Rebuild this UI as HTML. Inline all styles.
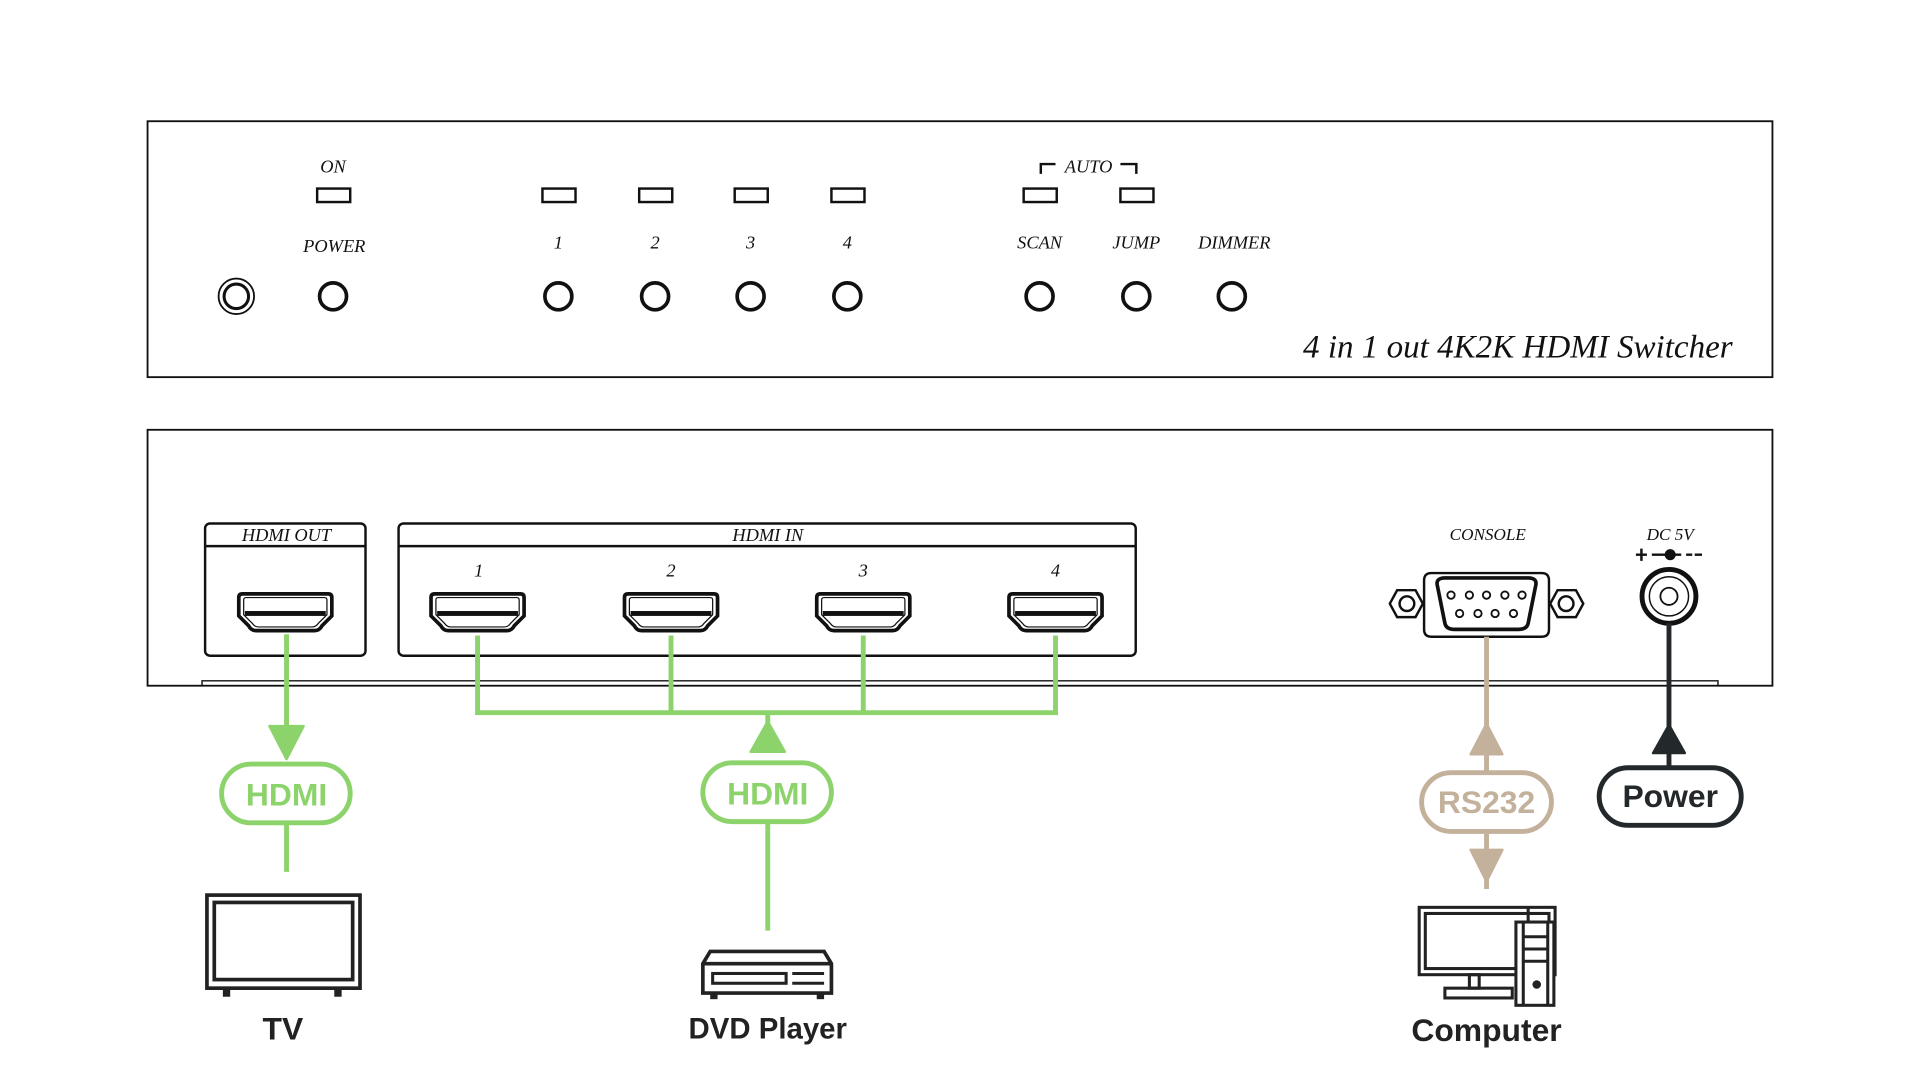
<!DOCTYPE html>
<html><head><meta charset="utf-8"><style>html,body{margin:0;padding:0;background:#fff;width:1920px;height:1080px;overflow:hidden}svg{display:block}</style></head>
<body>
<svg width="1920" height="1080" viewBox="0 0 1568 882" preserveAspectRatio="none" xmlns="http://www.w3.org/2000/svg">
<rect width="1568" height="882" fill="#fff"/>
<g font-family="Liberation Serif, serif" font-style="italic" fill="#111" text-anchor="middle">
<rect x="120.5" y="99" width="1327" height="209" fill="none" stroke="#111" stroke-width="1.5"/>
<text x="272" y="141" font-size="15">ON</text>
<text x="273" y="206" font-size="15">POWER</text>
<text x="456" y="203" font-size="15">1</text>
<text x="535" y="203" font-size="15">2</text>
<text x="613" y="203" font-size="15">3</text>
<text x="692" y="203" font-size="15">4</text>
<text x="849" y="203" font-size="15">SCAN</text>
<text x="928" y="203" font-size="15">JUMP</text>
<text x="1008" y="203" font-size="15">DIMMER</text>
<text x="889" y="141" font-size="15">AUTO</text>
<path d="M850 142 V134 H862 M915 134 H928 V142" fill="none" stroke="#111" stroke-width="2"/>
<g fill="none" stroke="#111" stroke-width="2">
<rect x="259" y="154" width="27" height="11"/>
<rect x="443" y="154" width="27" height="11"/>
<rect x="522" y="154" width="27" height="11"/>
<rect x="600" y="154" width="27" height="11"/>
<rect x="679" y="154" width="27" height="11"/>
<rect x="836" y="154" width="27" height="11"/>
<rect x="915" y="154" width="27" height="11"/>
</g>
<g fill="none" stroke="#111" stroke-width="3">
<circle cx="272" cy="242" r="11"/><circle cx="456" cy="242" r="11"/><circle cx="535" cy="242" r="11"/>
<circle cx="613" cy="242" r="11"/><circle cx="692" cy="242" r="11"/><circle cx="849" cy="242" r="11"/>
<circle cx="928" cy="242" r="11"/><circle cx="1006" cy="242" r="11"/>
</g>
<circle cx="193" cy="242" r="14.5" fill="none" stroke="#111" stroke-width="1.5"/>
<circle cx="193" cy="242" r="10" fill="none" stroke="#111" stroke-width="2.5"/>
<text x="1415" y="292" font-size="27" text-anchor="end">4 in 1 out 4K2K HDMI Switcher</text>

<rect x="120.5" y="351" width="1327" height="209" fill="none" stroke="#111" stroke-width="1.5"/>
<path d="M165 560 V556 H1403 V560" fill="none" stroke="#111" stroke-width="1.2"/>
<rect x="167.5" y="427.5" width="131" height="108" rx="4" fill="none" stroke="#111" stroke-width="2"/>
<line x1="168" y1="446" x2="298" y2="446" stroke="#111" stroke-width="2"/>
<text x="234" y="442" font-size="15">HDMI  OUT</text>
<rect x="325.5" y="427.5" width="602" height="108" rx="4" fill="none" stroke="#111" stroke-width="2"/>
<line x1="326" y1="446" x2="927" y2="446" stroke="#111" stroke-width="2"/>
<text x="627" y="442" font-size="15">HDMI  IN</text>
<text x="391" y="471" font-size="15">1</text>
<text x="548" y="471" font-size="15">2</text>
<text x="705" y="471" font-size="15">3</text>
<text x="862" y="471" font-size="15">4</text>
</g>
<defs>
<g id="hdmi">
<path d="M-38 -13 Q-38 -16 -35 -16 H35 Q38 -16 38 -13 V2 L30 10 Q28 14 24 14 H-24 Q-28 14 -30 10 L-38 2 Z" fill="none" stroke="#111" stroke-width="3"/>
<path d="M-34 -11 Q-34 -13 -32 -13 H32 Q34 -13 34 -11 V1 L27 8 Q25 11 22 11 H-22 Q-25 11 -27 8 L-34 1 Z" fill="none" stroke="#111" stroke-width="1"/>
<rect x="-33" y="-2" width="66" height="4" fill="#111"/>
</g>
</defs>
<use href="#hdmi" x="233" y="501"/>
<use href="#hdmi" x="390" y="501"/>
<use href="#hdmi" x="548" y="501"/>
<use href="#hdmi" x="705" y="501"/>
<use href="#hdmi" x="862" y="501"/>

<text x="1215" y="441" font-size="14" font-family="Liberation Serif, serif" font-style="italic" text-anchor="middle" fill="#111">CONSOLE</text>
<g fill="none" stroke="#111">
<path d="M1163 474 Q1163 468 1169 468 H1259 Q1265 468 1265 474 V514 Q1265 520 1259 520 H1169 Q1163 520 1163 514 Z" stroke-width="2"/>
<path d="M1174 479 Q1172 472 1180 472 H1248 Q1256 472 1254 479 L1248 509 Q1247 514 1240 514 H1188 Q1181 514 1180 509 Z" stroke-width="3"/>
<path d="M1135 493 L1141 482 H1156 L1162 493 L1156 504 H1141 Z" stroke-width="2"/>
<circle cx="1149" cy="493" r="6" stroke-width="2"/>
<path d="M1266 493 L1272 482 H1287 L1293 493 L1287 504 H1272 Z" stroke-width="2"/>
<circle cx="1279" cy="493" r="6" stroke-width="2"/>
<g stroke-width="1.5"><circle cx="1185" cy="486" r="3"/><circle cx="1200" cy="486" r="3"/><circle cx="1214" cy="486" r="3"/><circle cx="1229" cy="486" r="3"/><circle cx="1243" cy="486" r="3"/>
<circle cx="1192" cy="501" r="3"/><circle cx="1207" cy="501" r="3"/><circle cx="1221" cy="501" r="3"/><circle cx="1236" cy="501" r="3"/></g>
</g>
<text x="1364" y="441" font-size="14" font-family="Liberation Serif, serif" font-style="italic" text-anchor="middle" fill="#111">DC 5V</text>
<path d="M1336 453 H1345 M1340.5 448 V458 M1349 453 H1360 M1368 453 H1373 M1377 453 H1382 M1384 453 H1390" stroke="#111" stroke-width="2"/>
<circle cx="1364" cy="453" r="4.5" fill="#111"/>
<circle cx="1363" cy="487" r="22" fill="none" stroke="#111" stroke-width="4"/>
<circle cx="1363" cy="487" r="16" fill="none" stroke="#111" stroke-width="1.2"/>
<circle cx="1363" cy="487" r="7" fill="none" stroke="#111" stroke-width="1.5"/>

<g stroke="#8dd36c" stroke-width="4" fill="none">
<path d="M234 518 V600"/>
<path d="M234 672 V712"/>
<path d="M390 519 V582 H862 V519 M548 519 V582 M705 519 V582"/>
<path d="M627 582 V600 M627 672 V760"/>
<rect x="181" y="624" width="105" height="48" rx="24"/>
<rect x="574" y="623" width="105" height="48" rx="24"/>
</g>
<path d="M220 593 H248 L234 620 Z" fill="#8dd36c" stroke="#8dd36c" stroke-width="2" stroke-linejoin="round"/>
<path d="M613 614 H641 L627 589 Z" fill="#8dd36c" stroke="#8dd36c" stroke-width="2" stroke-linejoin="round"/>
<g font-family="Liberation Sans, sans-serif" font-weight="bold" text-anchor="middle">
<text x="234" y="658" font-size="26" fill="#8dd36c">HDMI</text>
<text x="627" y="657" font-size="26" fill="#8dd36c">HDMI</text>
</g>

<g stroke="#c4b19b" stroke-width="4" fill="none">
<path d="M1214 520 V600 M1214 616 V632 M1214 678 V694 M1214 710 V726"/>
<rect x="1161" y="631" width="106" height="48" rx="24"/>
</g>
<path d="M1201 616 H1227 L1214 591 Z" fill="#c4b19b" stroke="#c4b19b" stroke-width="2" stroke-linejoin="round"/>
<path d="M1201 694 H1227 L1214 720 Z" fill="#c4b19b" stroke="#c4b19b" stroke-width="2" stroke-linejoin="round"/>
<text x="1214" y="664" font-size="26" font-family="Liberation Sans, sans-serif" font-weight="bold" text-anchor="middle" fill="#c4b19b">RS232</text>

<g stroke="#23282b" stroke-width="4" fill="none">
<path d="M1363 509 V600 M1363 614 V628"/>
<rect x="1306" y="627" width="116" height="47" rx="23.5"/>
</g>
<path d="M1350 615 H1376 L1363 592 Z" fill="#23282b" stroke="#23282b" stroke-width="2" stroke-linejoin="round"/>
<text x="1364" y="659" font-size="26" font-family="Liberation Sans, sans-serif" font-weight="bold" text-anchor="middle" fill="#23282b">Power</text>

<g fill="none" stroke="#222" stroke-width="3">
<rect x="169" y="731" width="125" height="76"/>
<rect x="175" y="737" width="113" height="63"/>
</g>
<rect x="182" y="807" width="6" height="7" fill="#222"/><rect x="273" y="807" width="6" height="7" fill="#222"/>
<g fill="none" stroke="#222" stroke-width="3">
<path d="M574 811 V787 L580 777 H673 L679 787 V811 Z M574 787 H679"/>
<rect x="582" y="795" width="60" height="8" stroke-width="2.5"/>
<path d="M647 795 H673 M647 803 H673" stroke-width="2.5"/>
</g>
<rect x="580" y="811" width="6" height="5" fill="#222"/><rect x="667" y="811" width="6" height="5" fill="#222"/>
<g fill="none" stroke="#222" stroke-width="2.5">
<rect x="1159" y="741" width="111" height="55" />
<rect x="1164" y="746" width="101" height="45"/>
<path d="M1248 741 V786"/>
<rect x="1200" y="796" width="8" height="11"/>
<rect x="1180" y="807" width="55" height="8"/>
</g>
<g fill="#fff" stroke="#222" stroke-width="2.5">
<rect x="1238" y="753" width="31" height="68"/>
<path d="M1244 753 V821 M1244 765 H1264 M1244 775 H1264 M1244 785 H1264 M1264 753 V821" fill="none"/>
</g>
<circle cx="1255" cy="804" r="3.5" fill="#222"/>
<g font-family="Liberation Sans, sans-serif" font-weight="bold" text-anchor="middle" fill="#222">
<text x="231" y="849" font-size="26">TV</text>
<text x="627" y="848" font-size="24">DVD Player</text>
<text x="1214" y="850" font-size="26">Computer</text>
</g>
</svg>
</body></html>
